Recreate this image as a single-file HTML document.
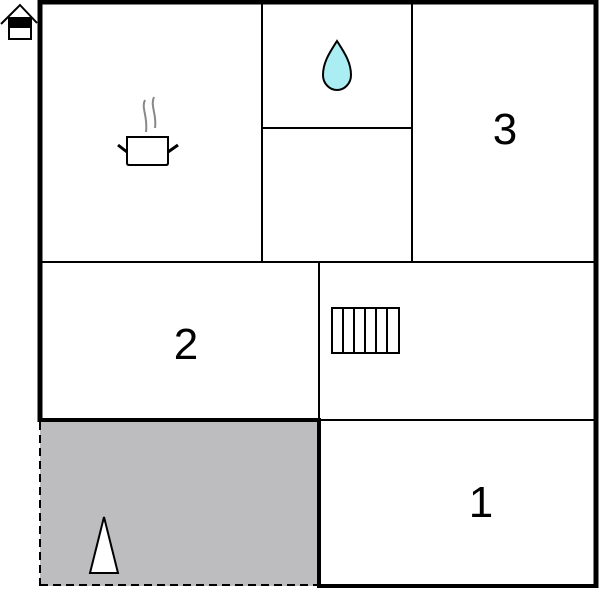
<!DOCTYPE html>
<html><head><style>body{margin:0;background:#fff}svg{display:block}</style></head><body>
<svg width="600" height="591" viewBox="0 0 600 591" xmlns="http://www.w3.org/2000/svg">
<rect x="40" y="420" width="279" height="166" fill="#bdbdc0"/>
<g stroke="#000" fill="none">
<line x1="262" y1="2" x2="262" y2="262" stroke-width="2"/>
<line x1="412" y1="2" x2="412" y2="262" stroke-width="2"/>
<line x1="262" y1="128" x2="412" y2="128" stroke-width="2"/>
<line x1="40" y1="262" x2="596" y2="262" stroke-width="2"/>
<line x1="319" y1="262" x2="319" y2="420" stroke-width="2"/>
<line x1="319" y1="420" x2="596" y2="420" stroke-width="2"/>
<line x1="40" y1="420" x2="321" y2="420" stroke-width="4"/>
<line x1="319" y1="418" x2="319" y2="588" stroke-width="4"/>
<line x1="317" y1="586" x2="598" y2="586" stroke-width="4"/>
<polyline points="40,422 40,2 596,2 596,588" stroke-width="5"/>
<line x1="40" y1="422" x2="40" y2="586" stroke-width="2" stroke-dasharray="8,5"/>
<line x1="40" y1="585" x2="319" y2="585" stroke-width="2" stroke-dasharray="8,5"/>
<!-- stairs -->
<rect x="332" y="308" width="67" height="45" stroke-width="2"/>
<path d="M343 308V353M354 308V353M365 308V353M376 308V353M387 308V353" stroke-width="2"/>
<!-- triangle -->
<polygon points="90,573 104,517 118,573" fill="#fff" stroke-width="2"/>
<!-- drop -->
<path d="M337 41 C330 52 323 62 323 75 C323 84 330 90 337 90 C344 90 351 84 351 75 C351 62 344 52 337 41Z" fill="#aaeef4" stroke-width="2"/>
<!-- pot -->
<path d="M127 137H168V163Q168 165 166 165H129Q127 165 127 163Z" stroke-width="2"/>
<path d="M118 145L127 152M178 145L168 152" stroke-width="3"/>
<path d="M145 100C141 108 148 116 146 132M154 97C150 106 157 114 155 128" stroke="#888" stroke-width="2"/>
<!-- house -->
<polyline points="1,24 20,5 37,23" stroke-width="2"/>
<rect x="9" y="18" width="22" height="21" stroke-width="2" fill="#fff"/>
<rect x="9" y="18" width="22" height="10" fill="#000" stroke="none"/>
</g>
<g font-family="Liberation Sans, sans-serif" font-size="44" text-anchor="middle" fill="#000">
<text x="505" y="144">3</text>
<text x="186" y="359">2</text>
<text x="481" y="517">1</text>
</g>
</svg>
</body></html>
